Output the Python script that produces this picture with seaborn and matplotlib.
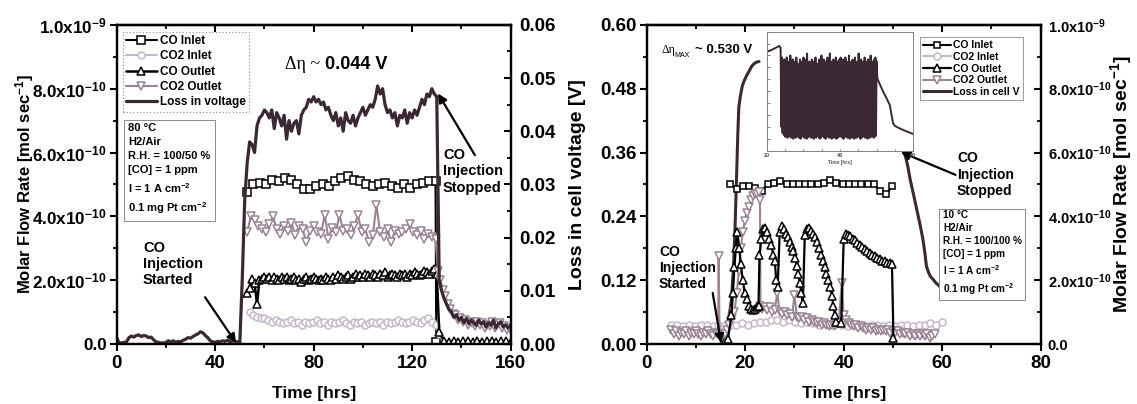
import numpy as np
import matplotlib
matplotlib.use("Agg")
import matplotlib.pyplot as plt
import seaborn as sns
from matplotlib.ticker import MultipleLocator

sns.set_theme(style="ticks")
plt.rcParams.update({
    "font.family": ["Liberation Sans", "DejaVu Sans"],
    "font.weight": "bold",
    "axes.labelweight": "bold",
    "mathtext.default": "regular",
    "axes.linewidth": 1.6,
    "axes.edgecolor": "black",
    "axes.labelcolor": "black",
    "text.color": "black",
    "xtick.color": "black",
    "ytick.color": "black",
    "xtick.labelsize": 13.5,
    "ytick.labelsize": 13.5,
    "legend.numpoints": 1,
})

C_CO = "black"
C_CO2_IN = "#c4b9c7"
C_CO2_OUT = "#9a8494"
C_LOSS = "#3a2832"
FLOW_UNIT = 1e-10  # flow lists below are in units of 1e-10 mol/s

# ---------------- 80 °C run ----------------
# voltage loss [V], hourly samples from t = 0 h
loss_80 = [
    0.0012, 0.0002, 0.0002, 0.0003, 0.0004, 0.0012, 0.0015, 0.0013, 0.0016, 0.0017,
    0.0014, 0.0016, 0.0015, 0.0012, 0.0013, 0.0008, 0.0004, 0.0003, 0.0002, 0.0002,
    0.0003, 0.0006, 0.0004, 0.0006, 0.0003, 0.0005, 0.0004, 0.0007, 0.0009, 0.0012,
    0.0011, 0.0014, 0.0017, 0.0019, 0.0023, 0.0021, 0.0016, 0.0012, 0.0006, 0.0004,
    0.0003, 0.0005, 0.0004, 0.0006, 0.0005, 0.0007, 0.0004, 0.0006, 0.0005, 0.0004,
    0.0,
    0.012, 0.027, 0.034, 0.038, 0.0375, 0.036, 0.041, 0.0425, 0.043, 0.044,
    0.0435, 0.0425, 0.044, 0.0405, 0.0435, 0.0425, 0.041, 0.043, 0.0385, 0.042,
    0.040, 0.0415, 0.042, 0.0395, 0.043, 0.044, 0.0445, 0.046, 0.0455, 0.0465,
    0.0455, 0.046, 0.045, 0.0455, 0.044, 0.0445, 0.043, 0.042, 0.0435, 0.041,
    0.0425, 0.040, 0.0435, 0.042, 0.0415, 0.043, 0.041, 0.0425, 0.0435, 0.0445,
    0.043, 0.044, 0.045, 0.0445, 0.046, 0.0485, 0.047, 0.048, 0.045, 0.0435,
    0.044, 0.0425, 0.0435, 0.041, 0.043, 0.0425, 0.044, 0.0415, 0.0435, 0.0425,
    0.044, 0.043, 0.0445, 0.046, 0.045, 0.047, 0.0465, 0.048, 0.047, 0.0465,
    0.012, 0.010, 0.0085, 0.0075, 0.0065, 0.006, 0.005, 0.0055, 0.0045, 0.005,
    0.004, 0.0048, 0.0038, 0.0045, 0.004, 0.0035, 0.0045, 0.0038, 0.0042, 0.0032,
    0.004, 0.0035, 0.0045, 0.003, 0.0038, 0.0042, 0.0032, 0.0036, 0.003, 0.0035,
]

co_in_80_span = (53.0, 129.5)
co_in_80 = [4.75, 5.0, 5.05, 5.0, 5.15, 5.1, 5.2, 5.15, 5.0, 4.85, 4.85, 4.95, 5.0,
            4.95, 5.1, 5.2, 5.25, 5.15, 5.1, 5.0, 4.95, 5.0, 5.05, 4.95, 4.9, 5.0,
            4.9, 5.0, 5.05, 5.1, 5.1]
co_in_80_end = [(129.8, 0.05)]

co2_in_80_span = (54.0, 131.0)
co2_in_80 = [1.0, 0.9, 0.85, 0.8, 0.8, 0.75, 0.7, 0.75, 0.7, 0.65, 0.7, 0.75, 0.65,
             0.7, 0.6, 0.7, 0.65, 0.7, 0.75, 0.65, 0.7, 0.6, 0.7, 0.65, 0.7, 0.75,
             0.65, 0.6, 0.7, 0.65, 0.7, 0.6, 0.65, 0.7, 0.65, 0.7, 0.6, 0.7, 0.65,
             0.7, 0.75, 0.7, 0.65, 0.7, 0.75, 0.7, 0.65, 0.75, 0.8, 0.7, 0.6, 0.3]

co_out_80_start = [(53, 1.6), (54, 1.75), (55, 2.05), (56, 1.9), (57, 1.25)]
co_out_80_hourly_from = 58
co_out_80 = [2.0, 2.05, 2.1, 2.05, 2.1, 2.0, 2.1, 2.05, 2.0, 2.1,
             2.05, 2.1, 2.0, 2.05, 2.1, 2.0, 2.05, 1.95, 2.05, 2.1,
             2.0, 2.05, 2.1, 2.05, 2.0, 2.05, 2.0, 2.1, 2.05, 2.0,
             2.1, 2.05, 2.15, 2.1, 2.05, 2.1, 2.15, 2.05, 2.1, 2.2,
             2.1, 2.15, 2.1, 2.2, 2.15, 2.1, 2.2, 2.15, 2.1, 2.2,
             2.15, 2.25, 2.1, 2.15, 2.2, 2.15, 2.1, 2.2, 2.15, 2.2,
             2.1, 2.2, 2.15, 2.25, 2.2, 2.15, 2.2, 2.3, 2.25, 2.2,
             2.3, 2.35, 2.2]
co_out_80_after_span = (131.0, 160.0)
co_out_80_after = [0.38, 0.1, 0.05, 0.1, 0.05, 0.1, 0.08, 0.05, 0.1, 0.05, 0.08,
                   0.1, 0.05, 0.08, 0.1, 0.05]

co2_out_80_span = (53.0, 129.5)
co2_out_80 = [3.5, 4.0, 3.9, 3.7, 3.6, 3.5, 3.75, 4.0, 3.6, 3.45,
              3.7, 3.55, 3.8, 3.4, 3.7, 3.6, 3.2, 3.55, 3.7, 3.5,
              3.45, 4.05, 3.3, 3.65, 3.5, 4.05, 3.55, 3.6, 3.4, 3.7,
              4.05, 3.5, 3.6, 3.2, 3.4, 4.35, 3.5, 3.35, 3.6, 3.2,
              3.55, 3.45, 3.5, 3.6, 3.75, 3.5, 3.4, 3.55, 3.3, 3.45,
              3.35, 3.3]
co2_out_80_after_span = (130.5, 159.5)
co2_out_80_after = [2.3, 2.0, 1.7, 1.5, 1.25, 1.1, 0.95, 0.9, 0.75, 0.8,
                    0.7, 0.75, 0.6, 0.7, 0.65, 0.55, 0.7, 0.6, 0.65, 0.5,
                    0.6, 0.55, 0.7, 0.5, 0.6, 0.65, 0.5, 0.55, 0.45, 0.5]

# ---------------- 10 °C run ----------------
loss_10_rise = [(15.0, 0.0), (15.6, 0.01), (16.1, 0.021), (16.7, 0.05), (17.2, 0.083),
                (17.6, 0.14), (17.9, 0.209), (18.2, 0.30), (18.5, 0.396), (18.7, 0.445),
                (19.0, 0.465), (19.4, 0.485), (19.8, 0.495), (20.2, 0.503), (20.8, 0.513),
                (21.3, 0.522), (21.8, 0.527), (22.3, 0.53), (22.8, 0.531)]
loss_10_fall = [(52.3, 0.362), (53.0, 0.335), (53.5, 0.309), (54.2, 0.28), (55.0, 0.246),
                (55.6, 0.22), (56.1, 0.196), (56.5, 0.17), (56.8, 0.146), (57.2, 0.135),
                (57.6, 0.127), (58.2, 0.121), (58.7, 0.115), (59.3, 0.11), (59.8, 0.105)]

# inset trace of the cell-voltage loss
inset_pre = [(20.2, 0.50), (21.0, 0.505), (21.8, 0.512), (22.6, 0.52), (23.4, 0.528), (23.8, 0.52)]
inset_cycle_span = (24.0, 50.0)
inset_troughs = [0.12, 0.09, 0.08, 0.07, 0.075, 0.065, 0.07, 0.08, 0.065, 0.07,
                 0.06, 0.075, 0.065, 0.07, 0.08, 0.065, 0.06, 0.07, 0.075, 0.065,
                 0.07, 0.06, 0.065, 0.08, 0.07, 0.065, 0.075, 0.06, 0.07, 0.065,
                 0.08, 0.07, 0.06, 0.065, 0.075, 0.07, 0.065, 0.06, 0.07, 0.08,
                 0.065, 0.07, 0.06, 0.075, 0.065, 0.07, 0.06, 0.065, 0.07, 0.075,
                 0.07, 0.065, 0.06, 0.075, 0.07, 0.065, 0.08, 0.06, 0.07, 0.065,
                 0.075, 0.06, 0.07, 0.065, 0.08, 0.07, 0.06, 0.065, 0.07, 0.075,
                 0.065, 0.07, 0.06, 0.075, 0.065, 0.07, 0.08, 0.065, 0.07, 0.075]
inset_peaks = [0.47, 0.45, 0.46, 0.44, 0.47, 0.43, 0.45, 0.48, 0.44, 0.46,
               0.43, 0.45, 0.47, 0.44, 0.42, 0.46, 0.45, 0.43, 0.47, 0.44,
               0.46, 0.49, 0.43, 0.45, 0.44, 0.46, 0.42, 0.45, 0.47, 0.44,
               0.43, 0.46, 0.45, 0.48, 0.44, 0.46, 0.43, 0.45, 0.47, 0.44,
               0.49, 0.45, 0.43, 0.46, 0.44, 0.47, 0.45, 0.43, 0.46, 0.47,
               0.44, 0.46, 0.43, 0.47, 0.45, 0.44, 0.48, 0.43, 0.45, 0.46,
               0.44, 0.47, 0.43, 0.45, 0.49, 0.44, 0.46, 0.45, 0.43, 0.47,
               0.45, 0.44, 0.46, 0.43, 0.48, 0.45, 0.44, 0.46, 0.47, 0.45]
inset_post = [(50.2, 0.365), (51.0, 0.33), (51.8, 0.297), (52.7, 0.265), (53.6, 0.23),
              (54.0, 0.19), (54.5, 0.138), (55.0, 0.125), (56.0, 0.115), (57.3, 0.104),
              (58.5, 0.095), (60.0, 0.084)]

co_in_10_span = (17.0, 49.9)
co_in_10 = [5.0, 4.85, 4.95, 4.95, 4.9, 4.8, 5.0, 5.05, 5.1, 5.0, 5.0, 5.0, 5.0, 5.0,
            5.0, 5.05, 5.15, 5.05, 5.0, 5.0, 5.0, 5.0, 5.0, 5.0, 4.8, 4.7, 4.95]

co2_in_10_span = (5.0, 60.0)
co2_in_10 = [0.6, 0.6, 0.55, 0.6, 0.55, 0.6, 0.6, 0.55, 0.6, 0.55,
             0.6, 0.6, 0.65, 0.6, 0.65, 0.7, 0.7, 0.75, 0.75, 0.7,
             0.75, 0.7, 0.65, 0.7, 0.65, 0.6, 0.65, 0.6, 0.65, 0.6,
             0.55, 0.6, 0.6, 0.55, 0.6, 0.6, 0.55, 0.6, 0.55, 0.6,
             0.6, 0.55, 0.6, 0.6, 0.65, 0.6, 0.7]

co_out_10 = [(16.5, 0.15), (17.2, 0.9), (17.5, 1.6), (17.8, 2.4), (18.1, 3.0), (18.4, 3.5),
             (18.8, 3.0), (19.1, 2.5), (19.5, 2.0), (19.9, 1.6), (20.3, 1.4), (20.7, 1.2),
             (21.1, 1.1), (21.5, 1.05), (21.9, 1.1), (22.3, 1.15), (22.7, 1.2),
             (22.9, 2.8), (23.3, 3.3), (23.7, 3.6), (24.1, 3.65), (24.5, 3.5), (24.9, 3.3),
             (25.3, 3.1), (25.7, 2.8), (26.0, 2.6), (26.3, 2.0), (26.6, 1.8),
             (27.0, 3.5), (27.4, 3.7), (27.8, 3.6), (28.2, 3.45), (28.6, 3.35), (29.0, 3.2),
             (29.4, 3.05), (29.8, 2.9), (30.2, 2.7), (30.5, 2.45), (30.8, 2.2), (31.1, 1.9),
             (31.4, 1.6), (31.7, 1.3),
             (32.1, 3.4), (32.5, 3.6), (32.9, 3.62), (33.3, 3.55), (33.7, 3.45), (34.1, 3.35),
             (34.5, 3.2), (34.9, 3.0), (35.3, 2.8), (35.7, 2.6), (36.1, 2.4), (36.5, 2.2),
             (36.9, 2.0), (37.3, 1.8), (37.6, 1.5), (37.9, 1.2), (38.2, 0.9), (38.5, 0.7),
             (39.5, 0.65),
             (40.0, 3.3), (40.4, 3.45), (40.8, 3.42), (41.3, 3.37), (41.8, 3.3), (42.3, 3.25),
             (42.8, 3.18), (43.3, 3.1), (43.8, 3.05), (44.3, 2.98), (44.8, 2.92), (45.3, 2.85),
             (45.8, 2.8), (46.3, 2.75), (46.8, 2.7), (47.3, 2.65), (47.8, 2.6), (48.3, 2.6),
             (48.8, 2.55), (49.3, 2.55), (49.8, 2.5), (50.1, 0.2)]

co2_out_10_base_span = (5.0, 14.5)
co2_out_10_base = [0.45, 0.3, 0.4, 0.25, 0.35, 0.3, 0.4, 0.25, 0.35, 0.3,
                   0.4, 0.3, 0.25, 0.35, 0.3, 0.4, 0.3, 0.25, 0.35, 0.3]
co2_out_10 = [(14.6, 2.75), (14.8, 0.3), (15.3, 0.25), (15.8, 0.3), (16.3, 0.45), (16.8, 0.6),
              (17.3, 0.8), (17.8, 1.0), (18.3, 1.6), (18.7, 2.3), (19.1, 3.0), (19.5, 3.5),
              (19.9, 3.85), (20.3, 4.1), (20.7, 4.3), (21.1, 4.5), (21.5, 4.65), (21.9, 4.7),
              (22.3, 4.7), (22.7, 4.75), (23.0, 4.5), (23.1, 1.2), (23.5, 1.1), (24.0, 1.15),
              (24.5, 1.05), (25.0, 1.15), (25.5, 1.0), (26.0, 1.05), (26.5, 1.6), (27.0, 1.0),
              (27.5, 0.95), (28.0, 1.0), (28.5, 0.9), (29.0, 0.95), (29.5, 0.85), (30.0, 1.55),
              (30.5, 0.85), (31.0, 0.8), (31.5, 0.85), (32.0, 0.75), (32.5, 0.8), (33.0, 0.7),
              (33.5, 0.75), (34.0, 0.7), (34.5, 0.65), (35.0, 0.7), (35.5, 0.6), (36.0, 0.65),
              (36.5, 0.6), (37.0, 0.55), (37.5, 0.6), (38.0, 0.55), (38.5, 0.6), (39.0, 0.7),
              (39.6, 1.9), (40.0, 0.9), (40.5, 0.75), (41.0, 0.65), (41.5, 0.6), (42.0, 0.55),
              (42.5, 0.6), (43.0, 0.5), (43.5, 0.55), (44.0, 0.5), (44.5, 0.45), (45.0, 0.5),
              (45.5, 0.45), (46.0, 0.5), (46.5, 0.4), (47.0, 0.45), (47.5, 0.4), (48.0, 0.45),
              (48.5, 0.4), (49.0, 0.45), (49.5, 0.35), (50.0, 0.4), (50.5, 0.35), (51.0, 0.4),
              (51.5, 0.3), (52.0, 0.35), (52.5, 0.3), (53.0, 0.35), (53.5, 0.25), (54.0, 0.3),
              (54.5, 0.25), (55.0, 0.3), (55.5, 0.25), (56.0, 0.3), (56.5, 0.25), (57.0, 0.3),
              (57.5, 0.2), (58.0, 0.25), (58.5, 0.3)]

# ticks
flow_ticks = [0, 2e-10, 4e-10, 6e-10, 8e-10, 1e-9]
flow_labels = ["0.0", "2.0x10$^{-10}$", "4.0x10$^{-10}$", "6.0x10$^{-10}$",
               "8.0x10$^{-10}$", "1.0x10$^{-9}$"]
volt80_ticks = [0, 0.01, 0.02, 0.03, 0.04, 0.05, 0.06]
volt80_labels = ["0.00", "0.01", "0.02", "0.03", "0.04", "0.05", "0.06"]
volt10_ticks = [0, 0.12, 0.24, 0.36, 0.48, 0.60]
volt10_labels = ["0.00", "0.12", "0.24", "0.36", "0.48", "0.60"]

legend_80 = ["CO Inlet", "CO2 Inlet", "CO Outlet", "CO2 Outlet", "Loss in voltage"]
legend_10 = ["CO Inlet", "CO2 Inlet", "CO Outlet", "CO2 Outlet", "Loss in cell V"]
cond_80 = "80 °C\nH2/Air\nR.H. = 100/50 %\n[CO] = 1 ppm\nI = 1 A cm$^{-2}$\n0.1 mg Pt cm$^{-2}$"
cond_10 = "10 °C\nH2/Air\nR.H. = 100/100 %\n[CO] = 1 ppm\nI = 1 A cm$^{-2}$\n0.1 mg Pt cm$^{-2}$"


def span(bounds, values):
    return np.linspace(bounds[0], bounds[1], len(values))


def pairs(p):
    a = np.asarray(p, dtype=float)
    return a[:, 0], a[:, 1]


def trace(ax, x, y, color, marker=None, ms=5.0, lw=1.5, mew=1.1):
    kw = dict(color=color, linewidth=lw, estimator=None, sort=False, legend=False,
              errorbar=None)
    if marker is not None:
        kw.update(marker=marker, markersize=ms, markerfacecolor="white",
                  markeredgecolor=color, markeredgewidth=mew)
    sns.lineplot(x=np.asarray(x, dtype=float), y=np.asarray(y, dtype=float), ax=ax, **kw)
    return ax.lines[-1]


fig = plt.figure(figsize=(11.37, 4.04), dpi=100)
ax_l = fig.add_axes([0.1026, 0.1485, 0.3465, 0.790])
ax_r = fig.add_axes([0.5688, 0.1485, 0.3465, 0.790])
ax_l2 = ax_l.twinx()
ax_r2 = ax_r.twinx()

# ---- left panel: flows on the left axis, voltage loss on the right ----
x, y = span(co_in_80_span, co_in_80), np.array(co_in_80)
ex, ey = pairs(co_in_80_end)
h1 = trace(ax_l, np.append(x, ex), np.append(y, ey) * FLOW_UNIT, C_CO, "s", ms=5.2)
h2 = trace(ax_l, span(co2_in_80_span, co2_in_80), np.array(co2_in_80) * FLOW_UNIT,
           C_CO2_IN, "o", ms=5.0)
sx, sy = pairs(co_out_80_start)
hx = np.arange(co_out_80_hourly_from, co_out_80_hourly_from + len(co_out_80))
ax_ = span(co_out_80_after_span, co_out_80_after)
h3 = trace(ax_l, np.concatenate([sx, hx, ax_]),
           np.concatenate([sy, co_out_80, co_out_80_after]) * FLOW_UNIT,
           C_CO, "^", ms=5.5, lw=1.8)
h4 = trace(ax_l, np.concatenate([span(co2_out_80_span, co2_out_80),
                                 span(co2_out_80_after_span, co2_out_80_after)]),
           np.concatenate([co2_out_80, co2_out_80_after]) * FLOW_UNIT,
           C_CO2_OUT, "v", ms=6.0, lw=1.5)
h5 = trace(ax_l2, np.arange(len(loss_80)), loss_80, C_LOSS, lw=2.3)

# ---- right panel: voltage loss on the left axis, flows on the right ----
rx, ry = pairs(loss_10_rise)
trace(ax_r, rx, ry, C_LOSS, lw=2.2)
fx, fy = pairs(loss_10_fall)
trace(ax_r, fx, fy, C_LOSS, lw=2.2)

g1 = trace(ax_r2, span(co_in_10_span, co_in_10), np.array(co_in_10) * FLOW_UNIT,
           C_CO, "s", ms=5.0)
g2 = trace(ax_r2, span(co2_in_10_span, co2_in_10), np.array(co2_in_10) * FLOW_UNIT,
           C_CO2_IN, "o", ms=5.0)
bx = span(co2_out_10_base_span, co2_out_10_base)
ox, oy = pairs(co2_out_10)
g4 = trace(ax_r2, np.concatenate([bx, ox]),
           np.concatenate([co2_out_10_base, oy]) * FLOW_UNIT, C_CO2_OUT, "v", ms=5.5)
cx, cy = pairs(co_out_10)
g3 = trace(ax_r2, cx, cy * FLOW_UNIT, C_CO, "^", ms=5.5, lw=1.6)
g5 = ax_r.lines[0]

# ---- axes styling ----
for ax, xmax, step in [(ax_l, 160, 40), (ax_r, 80, 20)]:
    ax.set_xlim(0, xmax)
    ax.xaxis.set_major_locator(MultipleLocator(step))
    ax.xaxis.set_minor_locator(MultipleLocator(step / 2))
    ax.tick_params(axis="x", which="major", direction="out", length=5, width=1.5, pad=3)
    ax.tick_params(axis="x", which="minor", direction="out", length=3, width=1.3)
    ax.tick_params(axis="y", which="major", direction="out", length=5, width=1.5, pad=2)
    ax.tick_params(axis="y", which="minor", direction="out", length=3, width=1.3)
    top = ax.secondary_xaxis("top")
    top.xaxis.set_major_locator(MultipleLocator(step))
    top.xaxis.set_minor_locator(MultipleLocator(step / 2))
    top.tick_params(axis="x", which="major", direction="in", length=5, width=1.5, labeltop=False)
    top.tick_params(axis="x", which="minor", direction="in", length=3, width=1.3, labeltop=False)
    top.spines["top"].set_linewidth(1.6)
    ax.set_xlabel("Time [hrs]", fontsize=12.5)
    ax.xaxis.set_label_coords(0.5, -0.132)

for ax2 in (ax_l2, ax_r2):
    ax2.tick_params(axis="y", which="major", direction="in", length=5, width=1.5, pad=6)
    ax2.tick_params(axis="y", which="minor", direction="in", length=3, width=1.3)

ax_l.set_ylim(0, 1e-9)
ax_l.set_yticks(flow_ticks, flow_labels)
ax_l.tick_params(axis="y", labelsize=12.3)
ax_l.yaxis.set_minor_locator(MultipleLocator(1e-10))
ax_l.set_ylabel("Molar Flow Rate [mol sec$^{-1}$]", fontsize=12)
ax_l.yaxis.set_label_coords(-0.205, 0.5)

ax_l2.set_ylim(0, 0.06)
ax_l2.set_yticks(volt80_ticks, volt80_labels)
ax_l2.yaxis.set_minor_locator(MultipleLocator(0.005))
ax_l2.set_ylabel("")

ax_r.set_ylim(0, 0.6)
ax_r.set_yticks(volt10_ticks, volt10_labels)
ax_r.yaxis.set_minor_locator(MultipleLocator(0.06))
ax_r.set_ylabel("Loss in cell voltage [V]", fontsize=14)
ax_r.yaxis.set_label_coords(-0.154, 0.5)

ax_r2.set_ylim(0, 1e-9)
ax_r2.set_yticks(flow_ticks, flow_labels)
ax_r2.tick_params(axis="y", which="major", labelsize=10.5, pad=5)
ax_r2.yaxis.set_minor_locator(MultipleLocator(1e-10))
ax_r2.set_ylabel("Molar Flow Rate [mol sec$^{-1}$]", fontsize=14)
ax_r2.yaxis.set_label_coords(1.172, 0.5)

# ---- legends and condition boxes ----
leg = ax_l2.legend([h1, h2, h3, h4, h5], legend_80, loc="upper left",
                   bbox_to_anchor=(0.015, 0.979), fontsize=8.5, frameon=True,
                   fancybox=False, framealpha=1, edgecolor="#9a9a9a",
                   borderpad=0.3, labelspacing=0.28, handlelength=2.6,
                   handletextpad=0.25, borderaxespad=0)
leg.get_frame().set_linestyle(":")
leg.get_frame().set_linewidth(0.9)

leg2 = ax_r2.legend([g1, g2, g3, g4, g5], legend_10, loc="upper left",
                    bbox_to_anchor=(0.694, 0.961), fontsize=7.5, frameon=True,
                    fancybox=False, framealpha=1, edgecolor="#9a9a9a",
                    borderpad=0.3, labelspacing=0.16, handlelength=2.7,
                    handletextpad=0.15, borderaxespad=0)
leg2.get_frame().set_linewidth(0.7)

ax_l2.text(0.0287, 0.693, cond_80, transform=ax_l2.transAxes, ha="left", va="top",
           fontsize=8, linespacing=1.5,
           bbox=dict(boxstyle="square,pad=0.4", fc="white", ec="#8a8a8a", lw=0.7))
ax_r2.text(0.752, 0.4185, cond_10, transform=ax_r2.transAxes, ha="left", va="top",
           fontsize=7.2, linespacing=1.35,
           bbox=dict(boxstyle="square,pad=0.35", fc="white", ec="#8a8a8a", lw=0.7))

# ---- annotations ----
ax_l2.text(0.5287, 0.8746, "Δη ~ ", transform=ax_l2.transAxes, ha="right", va="center",
           fontsize=13, fontweight="normal", family=["Liberation Serif", "DejaVu Serif"])
ax_l2.text(0.5287, 0.8746, "0.044 V", transform=ax_l2.transAxes, ha="left", va="center",
           fontsize=13)

arrow = dict(arrowstyle="-|>", lw=1.6, color="black", mutation_scale=13, shrinkA=0, shrinkB=0)
ax_l2.text(10.7, 0.0194, "CO\nInjection\nStarted", ha="left", va="top", fontsize=10.5,
           linespacing=1.2)
ax_l2.annotate("", xy=(48.5, 0.0002), xytext=(35.9, 0.0088), arrowprops=arrow)
ax_l2.text(132.5, 0.0368, "CO\nInjection\nStopped", ha="left", va="top", fontsize=10.5,
           linespacing=1.2)
ax_l2.annotate("", xy=(130.5, 0.0471), xytext=(145.5, 0.0355), arrowprops=arrow)

ax_r2.text(0.0363, 0.9216, "Δη", transform=ax_r2.transAxes, ha="left", va="center",
           fontsize=8.5, fontweight="normal", family=["Liberation Serif", "DejaVu Serif"])
ax_r2.text(0.071, 0.903, "MAX", transform=ax_r2.transAxes, ha="left", va="center",
           fontsize=5, fontweight="normal")
ax_r2.text(0.122, 0.9216, "~ 0.530 V", transform=ax_r2.transAxes, ha="left", va="center",
           fontsize=9.5)

ax_r2.text(2.5, 0.186, "CO\nInjection\nStarted", transform=ax_r.transData, ha="left",
           va="top", fontsize=10, linespacing=1.2)
ax_r2.annotate("", xy=(15.1, 0.002), xytext=(13.4, 0.096), xycoords=ax_r.transData,
               textcoords=ax_r.transData, arrowprops=arrow)
ax_r2.text(63.0, 0.362, "CO\nInjection\nStopped", transform=ax_r.transData, ha="left",
           va="top", fontsize=10, linespacing=1.2)
ax_r2.annotate("", xy=(51.6, 0.361), xytext=(62.7, 0.318), xycoords=ax_r.transData,
               textcoords=ax_r.transData, arrowprops=arrow)

# ---- inset: full voltage-loss trace ----
ax_in = fig.add_axes([0.6743, 0.627, 0.1289, 0.2946])
ax_in.set_facecolor("white")
px, py = pairs(inset_pre)
cyc_t = np.linspace(inset_cycle_span[0], inset_cycle_span[1], 2 * len(inset_peaks))
cyc_v = np.column_stack([inset_troughs, inset_peaks]).ravel()
qx, qy = pairs(inset_post)
trace(ax_in, np.concatenate([px, cyc_t, qx]), np.concatenate([py, cyc_v, qy]), C_LOSS, lw=1.4)
ax_in.set_xlim(20, 60)
ax_in.set_ylim(0, 0.6)
ax_in.set_xticks([20, 40, 60])
ax_in.xaxis.set_minor_locator(MultipleLocator(5))
ax_in.yaxis.set_major_locator(MultipleLocator(0.06))
ax_in.tick_params(which="both", direction="in", length=1.8, width=0.5, labelsize=4,
                  pad=1.5, labelleft=False, colors="#555555")
for sp in ax_in.spines.values():
    sp.set_linewidth(0.7)
    sp.set_color("#808080")
ax_in.set_xlabel("Time [hrs]", fontsize=3.5, labelpad=1.5, color="#555555")
ax_in.set_ylabel("")

fig.savefig("out.png", dpi=100)
